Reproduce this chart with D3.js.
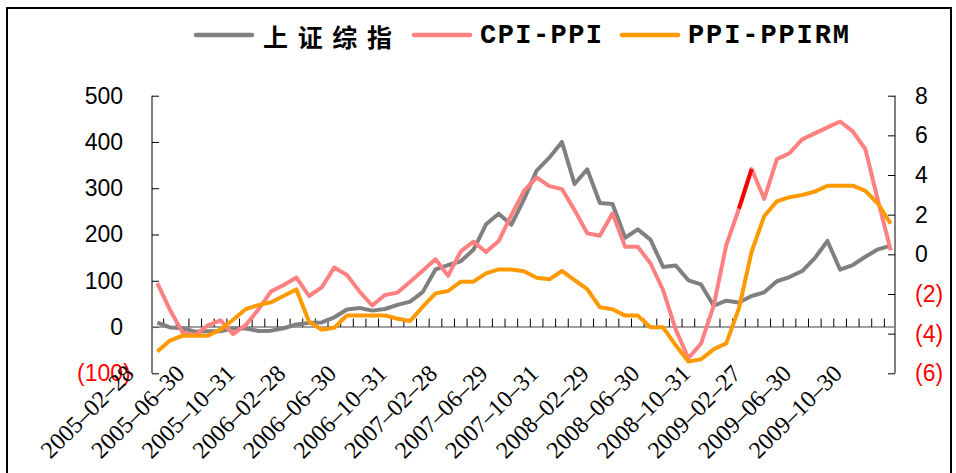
<!DOCTYPE html>
<html><head><meta charset="utf-8">
<script src="https://cdn.jsdelivr.net/npm/d3@7"></script>
<style>body{margin:0;background:#fff}</style>
</head><body><svg id="chart" width="956" height="473"></svg>
<script>
const dates = ["2005-02-28","2005-03-31","2005-04-29","2005-05-31","2005-06-30","2005-07-29","2005-08-31","2005-09-30","2005-10-31","2005-11-30","2005-12-30",
"2006-01-25","2006-02-28","2006-03-31","2006-04-28","2006-05-31","2006-06-30","2006-07-31","2006-08-31","2006-09-29","2006-10-31","2006-11-30","2006-12-29",
"2007-01-31","2007-02-28","2007-03-30","2007-04-30","2007-05-31","2007-06-29","2007-07-31","2007-08-31","2007-09-28","2007-10-31","2007-11-30","2007-12-28",
"2008-01-31","2008-02-29","2008-03-31","2008-04-30","2008-05-30","2008-06-30","2008-07-31","2008-08-29","2008-09-26","2008-10-31","2008-11-28","2008-12-31",
"2009-01-23","2009-02-27","2009-03-31","2009-04-30","2009-05-27","2009-06-30","2009-07-31","2009-08-31","2009-09-30","2009-10-30","2009-11-30","2009-12-31"];
// 上证综指 (left axis)
const shIndex = [9.6,-0.9,-2.7,-10,-9.3,-9.1,-2.5,-3.1,-8.4,-7.8,-2.6,5.6,9,10,21,38,41,35.5,39,48,55,76,124.5,
134,142,167,222,245,221,276,338,366,400,309,341,268,266,193,211,189,130,133,101,92,46,57,53,67,75,99,108,121,149,186,124,134,152,168,176];
// CPI-PPI (right axis)
const cpiPpi = [-1.45,-2.8,-3.95,-4.07,-3.58,-3.33,-4.02,-3.56,-2.78,-1.87,-1.55,-1.17,-2.1,-1.67,-0.66,-1.04,-1.88,-2.58,-2.05,-1.93,-1.38,-0.82,-0.25,
-1.08,0.15,0.64,0.12,0.67,1.98,3.2,3.88,3.44,3.29,2.23,1.06,0.94,2.07,0.38,0.38,-0.45,-1.8,-3.8,-5.24,-4.5,-2.6,0.47,2.3,4.3,2.8,4.8,5.1,5.8,6.1,6.4,6.7,6.2,5.3,2.7,0.2];
// PPI-PPIRM (right axis)
const ppiPpirm = [-4.9,-4.35,-4.1,-4.1,-4.1,-3.8,-3.3,-2.76,-2.56,-2.42,-2.09,-1.77,-3.4,-3.8,-3.7,-3.08,-3.08,-3.08,-3.08,-3.25,-3.36,-2.64,-1.97,
-1.85,-1.38,-1.38,-0.96,-0.76,-0.76,-0.85,-1.18,-1.26,-0.84,-1.3,-1.75,-2.67,-2.77,-3.09,-3.09,-3.68,-3.68,-4.59,-5.41,-5.29,-4.79,-4.49,-2.72,0.13,1.93,2.67,2.88,2.99,3.16,3.46,3.46,3.46,3.2,2.55,1.55];
const highlightPoint = 47; // CPI-PPI segment drawn in red ends at this point
const leftTicks = [-100,0,100,200,300,400,500];
const rightTicks = [-6,-4,-2,0,2,4,6,8];
const seriesNames = ["上证综指","CPI-PPI","PPI-PPIRM"];
const seriesColors = ["#808080","#FF8080","#FF9900"];

const svg = d3.select("#chart");
svg.append("rect").attr("width",956).attr("height",473).attr("fill","#fff");

const x = d3.scaleBand().domain(dates).range([151, 897]);
const bw = x.bandwidth();
const cx = d => x(d) + bw/2;
const yL = d3.scaleLinear().domain([-100,500]).range([373.3, 95.7]);
const yR = d3.scaleLinear().domain([-6,8]).range([373.3, 95.7]);
const fmt = d => d < 0 ? `(${-d})` : `${d}`;

// left axis
const gL = svg.append("g").attr("transform","translate(152,0)")
  .call(d3.axisLeft(yL).tickValues(leftTicks).tickSize(-7).tickSizeOuter(0).tickPadding(29).tickFormat(fmt));
gL.select(".domain").attr("stroke","#000").attr("d","M0,95.7V373.3");
gL.selectAll(".tick line").attr("stroke","#000");
gL.selectAll(".tick text").attr("font-family","'Liberation Sans',Arial,sans-serif").attr("font-size",23)
  .attr("fill",d=>d<0?"#FF0000":"#000").attr("dx",d=>d<0?"7.7":"0");

// right axis
const gR = svg.append("g").attr("transform","translate(895,0)")
  .call(d3.axisRight(yR).tickValues(rightTicks).tickSize(-7).tickSizeOuter(0).tickPadding(20).tickFormat(fmt));
gR.select(".domain").attr("stroke","#000").attr("d","M0,95.7V373.3");
gR.selectAll(".tick line").attr("stroke","#000");
gR.selectAll(".tick text").attr("font-family","'Liberation Sans',Arial,sans-serif").attr("font-size",23)
  .attr("fill",d=>d<0?"#FF0000":"#000");

// category axis at left 0
const y0 = yL(0);
svg.append("line").attr("x1",152).attr("x2",895).attr("y1",y0).attr("y2",y0).attr("stroke","#808080").attr("stroke-width",1.5);
svg.append("g").selectAll("line").data(dates.slice(1)).join("line")
  .attr("x1",d=>x(d)).attr("x2",d=>x(d)).attr("y1",y0-8.5).attr("y2",y0).attr("stroke","#000").attr("stroke-width",1);
svg.append("g").selectAll("text").data(dates.filter((d,i)=>i%4===0)).join("text")
  .attr("transform",d=>`translate(${cx(d)-22},375) rotate(-45)`)
  .attr("text-anchor","end").attr("font-family","'Liberation Serif','Times New Roman',serif").attr("font-size",24)
  .attr("fill","#000").text(d=>d.replace(/-/g,"\u2013"));

// series
const lineL = d3.line().x((v,i)=>cx(dates[i])).y(v=>yL(v));
const lineR = d3.line().x((v,i)=>cx(dates[i])).y(v=>yR(v));
svg.append("path").datum(shIndex).attr("d",lineL).attr("fill","none").attr("stroke",seriesColors[0]).attr("stroke-width",4).attr("stroke-linejoin","round");
svg.append("path").datum(cpiPpi).attr("d",lineR).attr("fill","none").attr("stroke",seriesColors[1]).attr("stroke-width",4).attr("stroke-linejoin","round");
const redSeg = d3.line().x(i=>cx(dates[i])).y(i=>yR(cpiPpi[i]));
svg.append("path").datum([highlightPoint-1, highlightPoint]).attr("d",redSeg).attr("fill","none").attr("stroke","#FF0000").attr("stroke-width",4);
svg.append("path").datum(ppiPpirm).attr("d",lineR).attr("fill","none").attr("stroke",seriesColors[2]).attr("stroke-width",4).attr("stroke-linejoin","round");

// legend
const legX = [196, 414, 622];
const legText = [263, 480, 688];
const legLen = [129, 122, 161];
seriesNames.forEach((n,i)=>{
  svg.append("line").attr("x1",legX[i]).attr("x2",legX[i]+56).attr("y1",35).attr("y2",35)
    .attr("stroke",seriesColors[i]).attr("stroke-width",4.5).attr("stroke-linecap","round");
  const t = svg.append("text").attr("x",legText[i]).attr("y",36).attr("dominant-baseline","central")
    .attr("textLength",legLen[i]).attr("lengthAdjust","spacing").attr("fill","#000").text(n);
  if (i===0) t.attr("font-family","'Noto Sans CJK SC',sans-serif").attr("font-size",25).attr("font-weight",700);
  else t.attr("font-family","'Liberation Mono',monospace").attr("font-size",27).attr("font-weight",700);
});

// frame
svg.append("rect").attr("x",7).attr("y",8).attr("width",944).attr("height",480)
  .attr("fill","none").attr("stroke","#000").attr("stroke-width",2);
</script></body></html>
